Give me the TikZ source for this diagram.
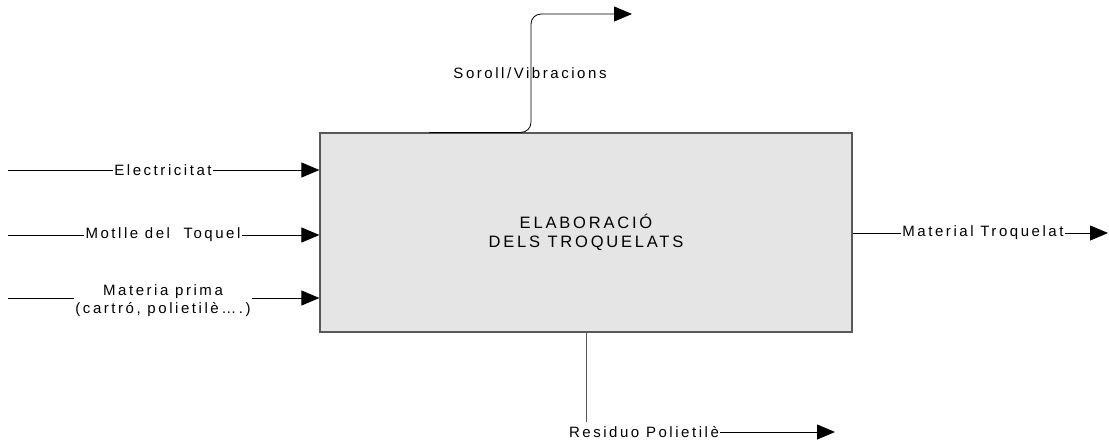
\documentclass[tikz,border=0pt]{standalone}
\usepackage{fontspec}
\setmainfont{Liberation Sans}[LetterSpace=17]
\usetikzlibrary{arrows.meta, positioning, calc}
\tikzset{
    procbox/.style={draw=black!65, line width=1.2pt, fill=black!10, inner sep=0pt,
        font=\fontsize{16.5}{19.5}\selectfont, align=center},
    flowlbl/.style={inner sep=1pt, font=\fontsize{15}{18}\selectfont, align=center},
    flowarr/.style={-{Triangle[length=18pt,width=15pt]}, line width=0.8pt},
    flowln/.style={line width=0.8pt}
}
\begin{document}
\begin{tikzpicture}[x=1pt, y=-1pt]
    \useasboundingbox (0,0) rectangle (1109,445);
    % process box
    \node[procbox, minimum width=532pt, minimum height=199pt] (proc) at (586,232.5) {ELABORACI\'O\\DELS TROQUELATS};
    % inputs
    \coordinate (e0) at (8,170);
    \coordinate (m0) at (8,235);
    \coordinate (p0) at (8,298);
    \node[flowlbl] (elec) at (163,170) {Electricitat};
    \node[flowlbl] (motl) at (163,235) {Motlle del\ \ Toquel};
    \node[flowlbl] (prim) at (163,301) {Materia prima\\(cartr\'o, polietil\`e\dots.)};
    \draw[flowln] (e0) -- (elec.west);
    \draw[flowarr] (elec.east) -- (elec.east -| proc.west);
    \draw[flowln] (m0) -- (motl.west);
    \draw[flowarr] (motl.east) -- (motl.east -| proc.west);
    \draw[flowln] (p0) -- (p0 -| prim.west);
    \draw[flowarr] (p0 -| prim.east) -- (p0 -| proc.west);
    % output
    \node[flowlbl] (tro) at (983,233) {Material Troquelat};
    \coordinate (t1) at (1108,233);
    \draw[flowln] (tro.west -| proc.east) -- (tro.west);
    \draw[flowarr] (tro.east) -- (t1);
    % noise
    \coordinate (s0) at ($(proc.north west)+(110,0)$);
    \coordinate (s1) at (632,14);
    \node[flowlbl] (sor) at (530,73) {Soroll/Vibracions};
    \draw[flowarr, rounded corners=10pt] (s0) -| (531,14) -- (s1);
    % waste
    \node[flowlbl] (res) at (644,432) {Residuo Polietil\`e};
    \coordinate (r1) at (835,432);
    \draw[flowln, draw=black!65, line width=1pt] (proc.south -| 586,0) -- (586,422);
    \draw[flowarr] (res.east) -- (r1);
\end{tikzpicture}
\end{document}
